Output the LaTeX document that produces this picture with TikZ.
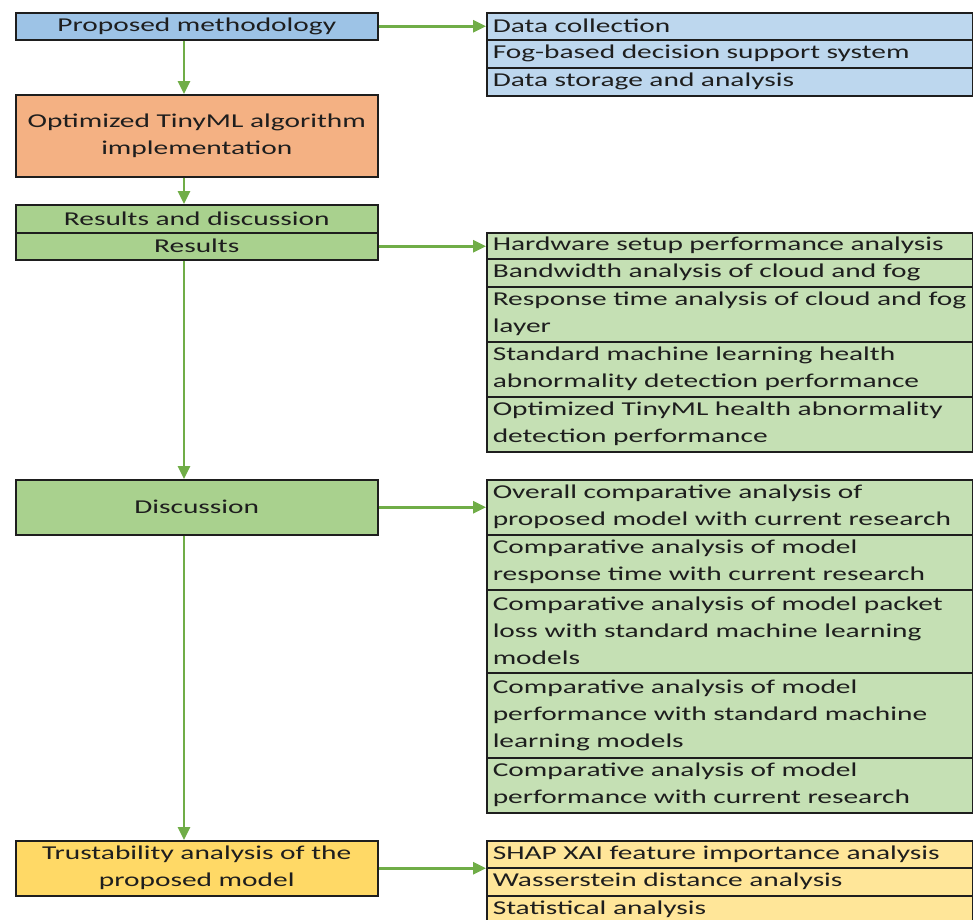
\documentclass[tikz,border=0pt]{standalone}
\usepackage{fontspec}
\setmainfont{Carlito}[FakeStretch=1.5]
\usetikzlibrary{arrows.meta}
\definecolor{methodblue}{HTML}{9DC3E6}
\definecolor{listblue}{HTML}{BDD7EE}
\definecolor{tinyorange}{HTML}{F4B183}
\definecolor{resgreen}{HTML}{A9D18E}
\definecolor{listgreen}{HTML}{C5E0B4}
\definecolor{trustyellow}{HTML}{FFD966}
\definecolor{listyellow}{HTML}{FFE699}
\definecolor{flowgreen}{HTML}{70AD47}
\definecolor{inkgray}{HTML}{1E1E1E}

\begin{document}
\begin{tikzpicture}[x=1pt,y=-1pt,
    mainbox/.style={draw=inkgray, line width=1.5pt, minimum width=362pt, inner sep=0pt,
      align=center, text=inkgray, anchor=north west, font=\fontsize{19.6}{27}\selectfont},
    listrow/.style={draw=inkgray, line width=1.5pt, minimum width=486pt, text width=474pt,
      inner xsep=6pt, inner ysep=0pt, align=left, text=inkgray, anchor=north west,
      font=\fontsize{19.6}{27}\selectfont},
    flow/.style={flowgreen, line width=2.8pt, -{Triangle[length=13pt,width=12pt]}}]
  \useasboundingbox (0,0) rectangle (973,919);

  % left column
  \node[mainbox, fill=methodblue, minimum height=27pt] (pm) at (15,12) {Proposed methodology};
  \node[mainbox, fill=tinyorange, minimum height=82pt] (opt) at (15,94) {Optimized TinyML algorithm\\implementation};
  \node[mainbox, fill=resgreen, minimum height=28pt] (rad) at (15,204) {Results and discussion};
  \node[mainbox, fill=resgreen, minimum height=27pt] (res) at (15,232) {Results};
  \node[mainbox, fill=resgreen, minimum height=55pt] (disc) at (15,479) {Discussion};
  \node[mainbox, fill=trustyellow, minimum height=55pt] (trust) at (15,840) {Trustability analysis of the\\proposed model};

  % methodology list
  \node[listrow, fill=listblue, minimum height=27pt] (dc) at (486,12) {Data collection};
  \node[listrow, fill=listblue, minimum height=28pt] (fog) at (486,39) {Fog-based decision support system};
  \node[listrow, fill=listblue, minimum height=28pt] (dsa) at (486,67) {Data storage and analysis};

  % results list
  \node[listrow, fill=listgreen, minimum height=26pt] (hw) at (486,232) {Hardware setup performance analysis};
  \node[listrow, fill=listgreen, minimum height=28pt] (bw) at (486,258) {Bandwidth analysis of cloud and fog};
  \node[listrow, fill=listgreen, minimum height=55pt] (rt) at (486,286) {Response time analysis of cloud and fog\\layer};
  \node[listrow, fill=listgreen, minimum height=55pt] (sml) at (486,341) {Standard machine learning health\\abnormality detection performance};
  \node[listrow, fill=listgreen, minimum height=55pt] (otml) at (486,396) {Optimized TinyML health abnormality\\detection performance};

  % discussion list
  \node[listrow, fill=listgreen, minimum height=55pt] (oca) at (486,479) {Overall comparative analysis of\\proposed model with current research};
  \node[listrow, fill=listgreen, minimum height=55pt] (cart) at (486,534) {Comparative analysis of model\\response time with current research};
  \node[listrow, fill=listgreen, minimum height=83pt] (capl) at (486,589) {Comparative analysis of model packet\\loss with standard machine learning\\models};
  \node[listrow, fill=listgreen, minimum height=85pt] (caps) at (486,672) {Comparative analysis of model\\performance with standard machine\\learning models};
  \node[listrow, fill=listgreen, minimum height=55pt] (capc) at (486,757) {Comparative analysis of model\\performance with current research};

  % trustability list
  \node[listrow, fill=listyellow, minimum height=27pt] (shap) at (486,840) {SHAP XAI feature importance analysis};
  \node[listrow, fill=listyellow, minimum height=28pt] (wd) at (486,867) {Wasserstein distance analysis};
  \node[listrow, fill=listyellow, minimum height=28pt] (stat) at (486,895) {Statistical analysis};

  % connectors
  \coordinate (spine) at (184,0);
  \draw[flow] (pm.south -| spine) -- (opt.north -| spine);
  \draw[flow] (opt.south -| spine) -- (rad.north -| spine);
  \draw[flow] (res.south -| spine) -- (disc.north -| spine);
  \draw[flow] (disc.south -| spine) -- (trust.north -| spine);
  \draw[flow] (pm.east) -- (pm.east -| dc.west);
  \draw[flow] (res.east) -- (res.east -| hw.west);
  \draw[flow] (disc.east) -- (disc.east -| oca.west);
  \draw[flow] (trust.east) -- (trust.east -| shap.west);
\end{tikzpicture}
\end{document}
